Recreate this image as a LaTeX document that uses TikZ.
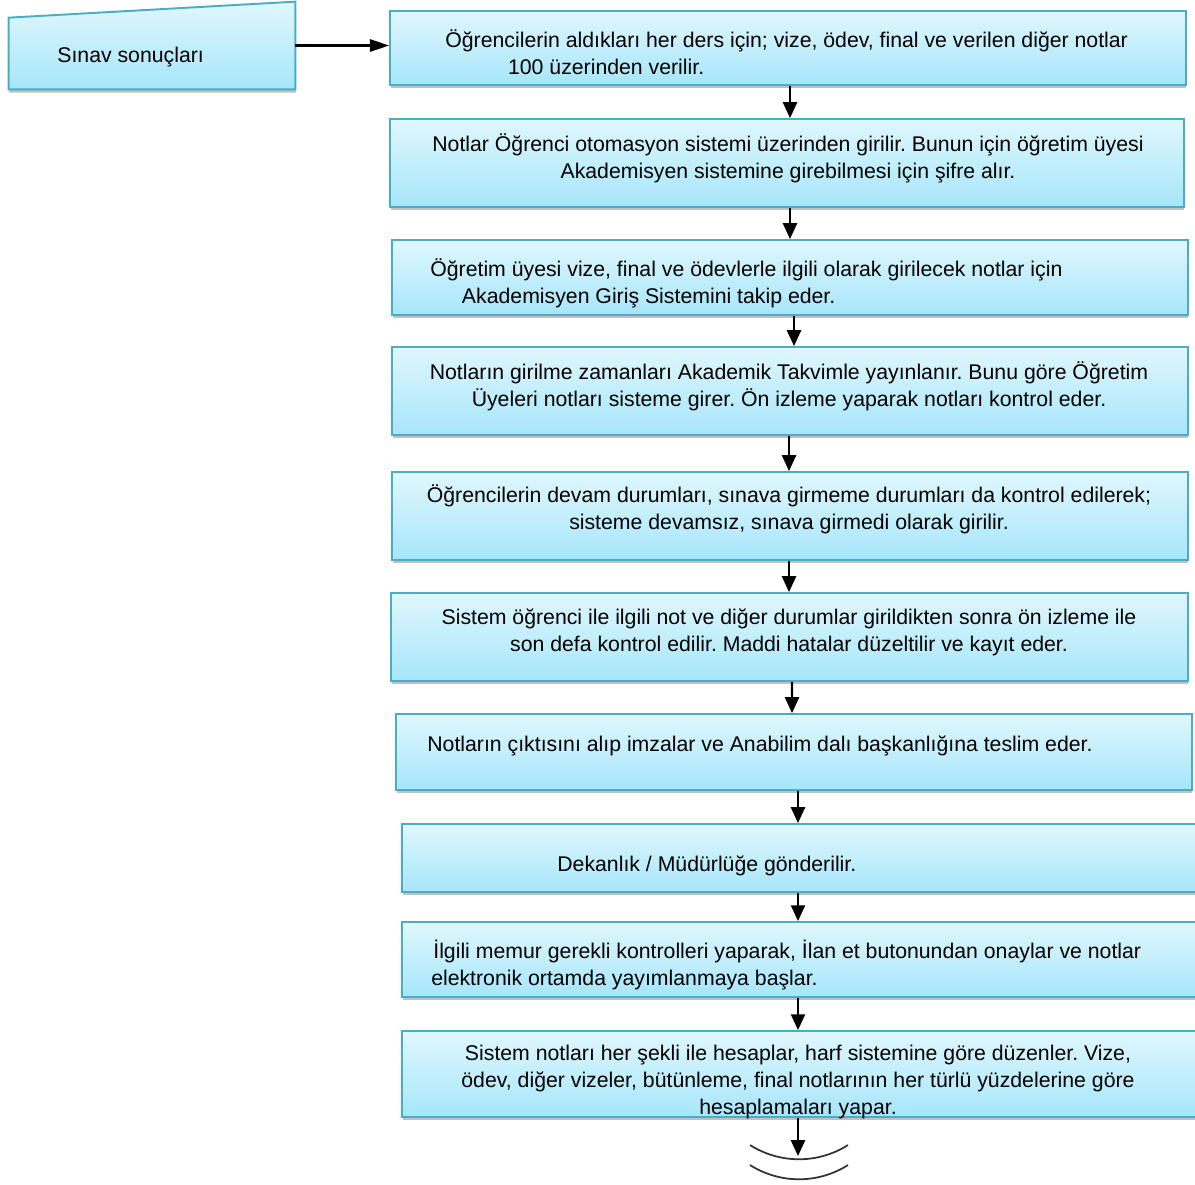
\documentclass[tikz,border=0pt]{standalone}
\usepackage{fontspec}
\setmainfont{Liberation Sans}
\usetikzlibrary{arrows.meta,shadows,calc}
\definecolor{boxtop}{RGB}{224,247,253}
\definecolor{boxbot}{RGB}{166,230,250}
\definecolor{boxline}{RGB}{75,172,198}
\tikzset{
  stepbox/.style={draw=boxline,line width=1.1pt,top color=boxtop,bottom color=boxbot,
    inner sep=0pt,minimum width=15.92cm,
    drop shadow={shadow xshift=0.3pt,shadow yshift=-1.8pt,opacity=0.35,fill=black!70}},
  steptext/.style={inner sep=0pt,font=\fontsize{12.1}{15.3}\selectfont\frenchspacing},
  flow/.style={line width=1.2pt,-{Triangle[length=9pt,width=8pt]}}
}
\begin{document}
\begin{tikzpicture}[x=0.02cm,y=-0.02cm]
\useasboundingbox (0,0) rectangle (1195,1184);

% giris kutusu
\node[minimum width=5.72cm,minimum height=1.74cm,inner sep=0pt] (inp) at (152,45.5) {};
\draw[draw=boxline,line width=1.1pt,top color=boxtop,bottom color=boxbot,
  drop shadow={shadow xshift=0.3pt,shadow yshift=-1.8pt,opacity=0.35,fill=black!70}]
  (inp.south west) -- (inp.south east) -- (inp.north east) -- ($(inp.north west)+(0,16)$) -- cycle;
\node[steptext,anchor=base west] (inptxt) at (57,62) {Sınav sonuçları};

% adimlar
\node[stepbox,minimum height=1.48cm] (b1) at (788,48) {};
\node[stepbox,minimum height=1.76cm,minimum width=15.88cm] (b2) at (787,163) {};
\node[stepbox,minimum height=1.5cm] (b3) at (790,277.5) {};
\node[stepbox,minimum height=1.76cm] (b4) at (790,391) {};
\node[stepbox,minimum height=1.76cm] (b5) at (790,516) {};
\node[stepbox,minimum height=1.76cm,minimum width=15.94cm] (b6) at (789.5,637) {};
\node[stepbox,minimum height=1.52cm] (b7) at (794,752) {};
\node[stepbox,minimum height=1.36cm] (b8) at (800,858) {};
\node[stepbox,minimum height=1.5cm] (b9) at (800,959.5) {};
\node[stepbox,minimum height=1.72cm] (b10) at (800,1074) {};

\node[steptext,anchor=base west,align=left] (t1) at (445,74)
  {Öğrencilerin aldıkları her ders için; vize, ödev, final ve verilen diğer notlar\\\hspace*{35.7pt}100 üzerinden verilir.};
\node[steptext,anchor=base,align=center] (t2) at (788,178)
  {Notlar Öğrenci otomasyon sistemi üzerinden girilir. Bunun için öğretim üyesi\\Akademisyen sistemine girebilmesi için şifre alır.};
\node[steptext,anchor=base west,align=left] (t3) at (430,303)
  {Öğretim üyesi vize, final ve ödevlerle ilgili olarak girilecek notlar için\\\hspace*{18pt}Akademisyen Giriş Sistemini takip eder.};
\node[steptext,anchor=base,align=center] (t4) at (789,406)
  {Notların girilme zamanları Akademik Takvimle yayınlanır. Bunu göre Öğretim\\Üyeleri notları sisteme girer. Ön izleme yaparak notları kontrol eder.};
\node[steptext,anchor=base,align=center] (t5) at (789,529)
  {Öğrencilerin devam durumları, sınava girmeme durumları da kontrol edilerek;\\sisteme devamsız, sınava girmedi olarak girilir.};
\node[steptext,anchor=base,align=center] (t6) at (789,651)
  {Sistem öğrenci ile ilgili not ve diğer durumlar girildikten sonra ön izleme ile\\son defa kontrol edilir. Maddi hatalar düzeltilir ve kayıt eder.};
\node[steptext,anchor=base west] (t7) at (427,751)
  {Notların çıktısını alıp imzalar ve Anabilim dalı başkanlığına teslim eder.};
\node[steptext,anchor=base west] (t8) at (557,871)
  {Dekanlık / Müdürlüğe gönderilir.};
\node[steptext,anchor=base west,align=left] (t9) at (433,985)
  {İlgili memur gerekli kontrolleri yaparak, İlan et butonundan onaylar ve notlar\\\hspace*{-1.2pt}elektronik ortamda yayımlanmaya başlar.};
\node[steptext,anchor=base,align=center] (t10) at (798,1114)
  {Sistem notları her şekli ile hesaplar, harf sistemine göre düzenler. Vize,\\ödev, diğer vizeler, bütünleme, final notlarının her türlü yüzdelerine göre\\hesaplamaları yapar.};

% oklar
\draw[line width=1.2pt,-{Triangle[length=11pt,width=7pt]}] (inp.east) -- (inp.east -| b1.west);
\draw[flow] ($(b1.south)+(2,0)$) -- ($(b2.north)+(3,0)$);
\draw[flow] ($(b2.south)+(3,0)$) -- ($(b3.north)+(0,0)$);
\draw[flow] ($(b3.south)+(4,0)$) -- ($(b4.north)+(4,0)$);
\draw[flow] ($(b4.south)+(-1,0)$) -- ($(b5.north)+(-1,0)$);
\draw[flow] ($(b5.south)+(-1,0)$) -- ($(b6.north)+(-0.5,0)$);
\draw[flow] ($(b6.south)+(2.5,0)$) -- ($(b7.north)+(-2,0)$);
\draw[flow] ($(b7.south)+(4,0)$) -- ($(b8.north)+(-2,0)$);
\draw[flow] ($(b8.south)+(-2,0)$) -- ($(b9.north)+(-2,0)$);
\draw[flow] ($(b9.south)+(-2,0)$) -- ($(b10.north)+(-2,0)$);
\coordinate (son) at (798,1156);
\draw[flow] ($(b10.south)+(-2,0)$) -- (son);

% devam isareti
\draw[line width=1pt,black!80] (750,1145) .. controls (780,1164) and (818,1164) .. (848,1145);
\draw[line width=1pt,black!80] (750,1165) .. controls (780,1184) and (818,1184) .. (848,1165);
\end{tikzpicture}
\end{document}
